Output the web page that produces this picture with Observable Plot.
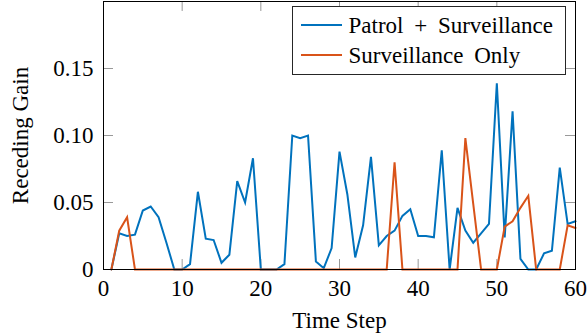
<!DOCTYPE html>
<html>
<head>
<meta charset="utf-8">
<script src="https://cdn.jsdelivr.net/npm/d3@7"></script>
<script src="https://cdn.jsdelivr.net/npm/@observablehq/plot@0.6"></script>
<style>
  html, body { margin: 0; padding: 0; background: #fff; }
  #wrap { position: relative; width: 588px; height: 336px; }
  #legend { position: absolute; left: 0; top: 0; pointer-events: none; }
  #legend text { font-family: "Liberation Serif", "Times New Roman", serif; font-size: 23px; }
</style>
</head>
<body>
<div id="wrap"></div>
<script>
const timeSteps = [1,2,3,4,5,6,7,8,9,10,11,12,13,14,15,16,17,18,19,20,21,22,23,24,25,26,27,28,29,30,
  31,32,33,34,35,36,37,38,39,40,41,42,43,44,45,46,47,48,49,50,51,52,53,54,55,56,57,58,59,60];
const patrolSurveillance = [0,0.027,0.025,0.026,0.044,0.047,0.039,0.020,0,0,
  0.004,0.058,0.023,0.022,0.005,0.011,0.066,0.050,0.083,0,
  0,0,0.004,0.100,0.098,0.100,0.006,0.001,0.016,0.088,
  0.056,0.009,0.033,0.084,0.018,0.025,0.029,0.040,0.045,0.025,
  0.025,0.024,0.089,0,0.046,0.029,0.020,0.027,0.034,0.139,
  0.024,0.118,0.008,0,0,0.012,0.014,0.076,0.034,0.036];
const surveillanceOnly = [0,0.029,0.039,0,0,0,0,0,0,0,
  0,0,0,0,0,0,0,0,0,0,
  0,0,0,0,0,0,0,0,0,0,
  0,0,0,0,0,0,0.080,0,0,0,
  0,0,0,0,0,0.098,0.049,0,0,0,
  0.032,0.036,0.046,0.055,0,0,0,0,0.033,0.031];
const seriesNames = ["Patrol + Surveillance", "Surveillance Only"];
const seriesColors = ["#0072BD", "#D95319"];
const xTicks = [0,10,20,30,40,50,60];
const yTicks = [0,0.05,0.10,0.15];
const yTickLabels = ["0","0.05","0.10","0.15"];
const xLabel = "Time Step";
const yLabel = "Receding Gain";

const seriesValues = [patrolSurveillance, surveillanceOnly];
const rows = [];
seriesNames.forEach((name, k) => {
  timeSteps.forEach((t, i) => rows.push({t, v: seriesValues[k][i], s: name}));
});

const W = 588, H = 336;
const mL = 103, mR = 13, mT = 1, mB = 67;
const frameH = H - mT - mB, frameW = W - mL - mR;
const tickLen = 10;
const tickColor = "#999";
const serif = "'Liberation Serif', 'Times New Roman', serif";

const chart = Plot.plot({
  width: W, height: H,
  marginLeft: mL, marginRight: mR, marginTop: mT, marginBottom: mB,
  style: {fontFamily: serif, fontSize: "23px", background: "#fff", color: "#000"},
  x: {domain: [0, 60]},
  y: {domain: [0, 0.2]},
  color: {domain: seriesNames, range: seriesColors},
  marks: [
    Plot.ruleX(xTicks.slice(1, -1), {stroke: tickColor, insetTop: frameH - tickLen}),
    Plot.ruleX(xTicks.slice(1, -1), {stroke: tickColor, insetBottom: frameH - tickLen}),
    Plot.ruleY(yTicks.slice(1), {stroke: tickColor, insetRight: frameW - tickLen}),
    Plot.ruleY(yTicks.slice(1), {stroke: tickColor, insetLeft: frameW - tickLen}),
    Plot.line(rows, {x: "t", y: "v", z: "s", stroke: "s", strokeWidth: 2, strokeLinejoin: "miter", strokeMiterlimit: 4}),
    Plot.frame({stroke: "#000", strokeWidth: 1}),
    Plot.axisX(xTicks, {tickSize: 0, tickPadding: 10, label: null, fill: "#000"}),
    Plot.axisY(yTicks, {tickSize: 0, tickPadding: 10, label: null, fill: "#000",
      tickFormat: d => yTickLabels[yTicks.indexOf(d)]}),
    Plot.text([xLabel], {frameAnchor: "bottom", dy: 58, fill: "#000"}),
    Plot.text([yLabel], {frameAnchor: "left", textAnchor: "middle", dx: -83, rotate: -90, fill: "#000"})
  ]
});

const wrap = document.getElementById("wrap");
wrap.appendChild(chart);

// legend overlay
const lg = d3.select(wrap).append("svg").attr("id", "legend")
  .attr("width", W).attr("height", H);
const box = {x: 292.5, y: 6.5, w: 273, h: 68};
lg.append("rect").attr("x", box.x).attr("y", box.y).attr("width", box.w).attr("height", box.h)
  .attr("fill", "#fff").attr("stroke", "#262626").attr("stroke-width", 1);
seriesNames.forEach((name, k) => {
  const cy = box.y + 18.5 + k * 30;
  lg.append("line").attr("x1", box.x + 8.5).attr("x2", box.x + 49.5).attr("y1", cy).attr("y2", cy)
    .attr("stroke", seriesColors[k]).attr("stroke-width", 2);
  lg.append("text").attr("x", box.x + 56).attr("y", cy).attr("dy", "0.33em")
    .attr("font-family", serif).attr("font-size", 23)
    .style("word-spacing", "5px")
    .attr("fill", "#000").text(name);
});
</script>
</body>
</html>
